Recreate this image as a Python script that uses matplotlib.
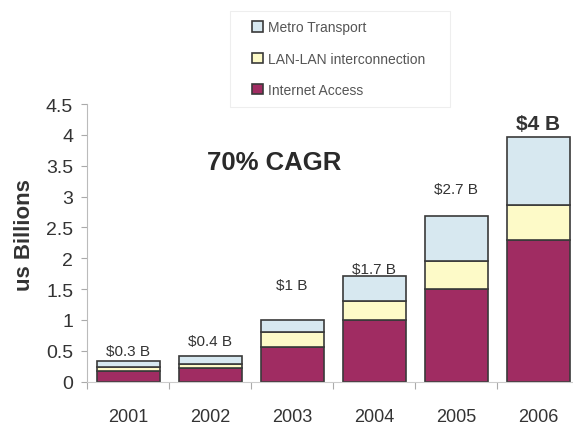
import numpy as np
import matplotlib.pyplot as plt
from matplotlib.patches import Rectangle

plt.rcParams['font.family'] = ['Liberation Sans', 'DejaVu Sans']

# data (US$ billions)
years = ['2001', '2002', '2003', '2004', '2005', '2006']
internet = [0.17, 0.22, 0.56, 1.00, 1.50, 2.29]
lan_lan = [0.06, 0.07, 0.25, 0.31, 0.46, 0.57]
metro = [0.10, 0.13, 0.19, 0.41, 0.73, 1.10]
totals_text = ['$0.3 B', '$0.4 B', '$1 B', '$1.7 B', '$2.7 B', '$4 B']
label_gap = [0.17, 0.24, 0.57, 0.11, 0.43, 0.22]

c_internet = '#a02c62'
c_lan = '#fdfac8'
c_metro = '#d7e8f0'
edge = '#3a3a3a'

fig = plt.figure(figsize=(5.73, 4.27), dpi=100)
ax = fig.add_axes([0.152, 0.104, 0.859, 0.65])

x = np.arange(len(years))
w = 0.77
bot2 = np.array(internet)
bot3 = bot2 + np.array(lan_lan)
tops = bot3 + np.array(metro)

ax.bar(x, internet, w, color=c_internet, edgecolor=edge, linewidth=1.2, label='Internet Access')
ax.bar(x, lan_lan, w, bottom=bot2, color=c_lan, edgecolor=edge, linewidth=1.2, label='LAN-LAN interconnection')
ax.bar(x, metro, w, bottom=bot3, color=c_metro, edgecolor=edge, linewidth=1.2, label='Metro Transport')

for i in range(len(years)):
    bold = i == len(years) - 1
    ax.text(x[i], tops[i] + label_gap[i], totals_text[i], ha='center', va='center',
            fontsize=15 if bold else 11, fontweight='bold' if bold else 'normal',
            color='#333333')

ax.text(1.78, 3.56, '70% CAGR', ha='center', va='center', fontsize=18.5,
        fontweight='bold', color='#2a2a2a')

ax.set_xlim(-0.5, 5.5)
ax.set_ylim(0, 4.5)
ax.set_yticks(np.arange(0, 4.51, 0.5))
ax.set_yticklabels(['0', '0.5', '1', '1.5', '2', '2.5', '3', '3.5', '4', '4.5'])
ax.set_xticks(np.arange(-0.5, 5.6, 1), minor=False)
ax.set_xticklabels([])
ax.set_xticks(x, minor=True)
ax.set_xticklabels(years, minor=True)
ax.tick_params(axis='x', which='major', length=5, color='#aaaaaa', width=0.8)
ax.tick_params(axis='x', which='minor', length=0, labelsize=13, pad=19, colors='#333333')
ax.tick_params(axis='y', length=4, color='#aaaaaa', labelsize=14, colors='#333333', pad=6)

for s in ['top', 'right']:
    ax.spines[s].set_visible(False)
ax.spines['left'].set_color('#bbbbbb')
ax.spines['bottom'].set_color('#cccccc')

ax.set_ylabel('us Billions', fontsize=16, fontweight='bold', color='#333333')
ax.yaxis.set_label_coords(-0.105, 0.53)

# legend box drawn separately so the padding can match
fig.patches.append(Rectangle((0.401, 0.747), 0.384, 0.225, transform=fig.transFigure,
                             facecolor='white', edgecolor='#eeeeee', linewidth=0.8))
h, l = ax.get_legend_handles_labels()
leg = fig.legend(h[::-1], l[::-1], loc='upper left', bbox_to_anchor=(0.440, 0.950),
                 fontsize=10, frameon=False, handlelength=0.75, handleheight=0.75,
                 handletextpad=0.4, labelspacing=1.25, borderpad=0, borderaxespad=0)
for t in leg.get_texts():
    t.set_color('#555555')

fig.savefig('out.png', dpi=100)
